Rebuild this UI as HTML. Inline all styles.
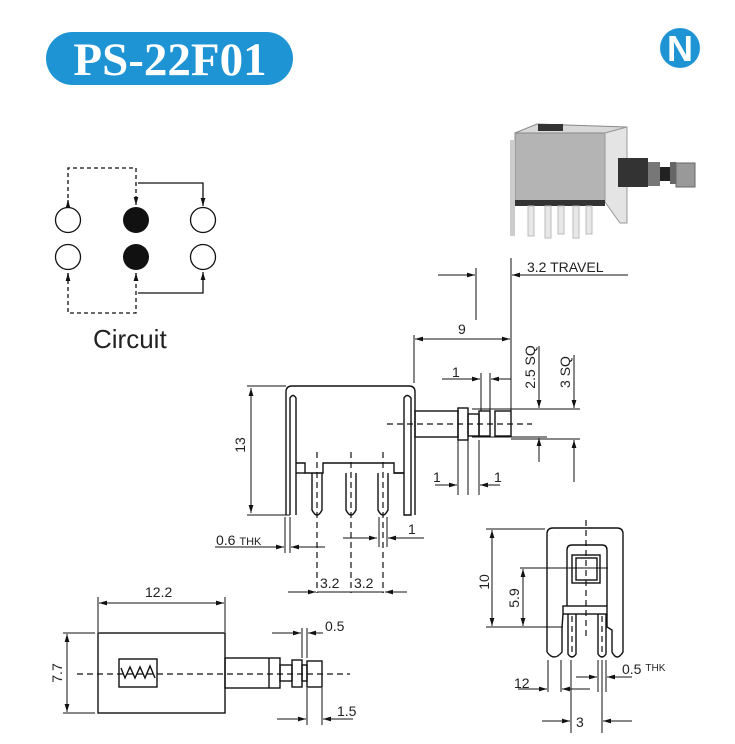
<!DOCTYPE html>
<html><head><meta charset="utf-8"><style>
html,body{margin:0;padding:0;background:#fff;}
svg{display:block;font-family:"Liberation Sans",sans-serif;}
</style></head><body>
<svg width="735" height="744" viewBox="0 0 735 744" xmlns="http://www.w3.org/2000/svg">
<defs>
<marker id="a" viewBox="0 0 10 6" refX="10" refY="3" markerWidth="8" markerHeight="5" orient="auto" markerUnits="userSpaceOnUse"><path d="M0,0 L10,3 L0,6 z" fill="#111"/></marker>
</defs>
<rect width="735" height="744" fill="#fff"/>
<rect x="46" y="32" width="247" height="53" rx="26.5" fill="#1e94d4"/>
<text x="170" y="75" text-anchor="middle" font-family="Liberation Serif,serif" font-weight="bold" font-size="47" fill="#fff">PS-22F01</text>
<circle cx="680" cy="48" r="20" fill="#1e94d4"/>
<text x="680" y="61" text-anchor="middle" font-family="Liberation Sans,sans-serif" font-weight="bold" font-size="36" fill="#fff">N</text>
<g>
<polygon points="515,133 537,124 627,127 605,133" fill="#d8d8d8" stroke="#888" stroke-width="1"/>
<rect x="538" y="124" width="25" height="7" fill="#333"/>
<rect x="515" y="133" width="90" height="69" fill="#b4b4b4" stroke="#888"/>
<polygon points="605,133 627,127 627,223 620,223 605,202" fill="#e4e4e4" stroke="#999"/>
<rect x="515" y="200" width="90" height="6" fill="#333"/>
<rect x="510" y="140" width="5" height="96" fill="#ccc"/>
<rect x="528" y="206" width="6" height="30" fill="#e8e8e8" stroke="#bbb"/><rect x="545" y="206" width="6" height="32" fill="#e8e8e8" stroke="#bbb"/><rect x="558" y="206" width="6" height="28" fill="#e8e8e8" stroke="#bbb"/><rect x="573" y="206" width="6" height="32" fill="#e8e8e8" stroke="#bbb"/><rect x="586" y="206" width="6" height="28" fill="#e8e8e8" stroke="#bbb"/>
<rect x="618" y="158" width="30" height="29" fill="#333"/>
<rect x="648" y="162" width="12" height="24" fill="#777"/>
<rect x="660" y="167" width="10" height="14" fill="#222"/>
<rect x="670" y="162" width="6" height="22" fill="#666"/>
<rect x="676" y="163" width="19" height="24" fill="#999" stroke="#666"/>
</g>
<g stroke="#111" stroke-width="1.3" fill="none">
<path d="M68,205 V168 H136 V205" stroke-dasharray="4,3" marker-end="url(#a)"/>
<path d="M68,205 V200" marker-end="url(#a)"/>
<path d="M68,273 V313 H136 V273" stroke-dasharray="4,3"/>
<path d="M68,278 V273" marker-end="url(#a)"/><path d="M136,278 V273" marker-end="url(#a)"/>
<path d="M138,183 H203 V206" marker-end="url(#a)"/>
<path d="M138,293 H203 V272" marker-end="url(#a)"/>
<circle cx="68" cy="220" r="12.5"/><circle cx="203" cy="220" r="12.5"/>
<circle cx="68" cy="257" r="12.5"/><circle cx="203" cy="257" r="12.5"/>
</g>
<circle cx="136" cy="220" r="13" fill="#111"/><circle cx="136" cy="257" r="13" fill="#111"/>
<text x="93" y="348" font-size="26" fill="#222">Circuit</text>

<g stroke="#111" stroke-width="1.4" fill="none">
<path d="M286,515 V392 Q286,386 292,386 H409 Q415,386 415,392 V515"/>
<path d="M290,515 V398 Q293,393 296,398 V515"/>
<path d="M404,515 V398 Q407,393 411,398 V515 Z"/>
<path d="M296,463 H305 V473 H323 V463 H394 V473 H404"/>
<path d="M296,473 H305"/><path d="M394,473 H404"/>
<path d="M312,473 V510 Q317,520 322,510 V473"/>
<path d="M346,473 V510 Q351,520 356,510 V473"/>
<path d="M378,473 V510 Q383,520 388,510 V473"/>
<rect x="415" y="411" width="43" height="26"/>
<rect x="458" y="408" width="10" height="32"/>
<rect x="468" y="414" width="11" height="22"/>
<rect x="479" y="411" width="11" height="25"/>
<rect x="495" y="411" width="16" height="25"/>
</g>
<g stroke="#111" stroke-width="1.2" stroke-dasharray="6,4" fill="none">
<path d="M387,424 H532"/>
<path d="M317,452 V593"/><path d="M351,452 V593"/><path d="M383,452 V593"/>
</g>
<g stroke="#111" stroke-width="1" fill="none">
<path d="M247,386 H286 M247,515 H290"/>
<path d="M251,450 V388" marker-end="url(#a)"/><path d="M251,450 V513" marker-end="url(#a)"/>
<path d="M285,517 V553 M290,517 V553"/>
<path d="M215,547 H284" marker-end="url(#a)"/><path d="M325,547 H291" marker-end="url(#a)"/>
<path d="M379,517 V547 M387,517 V547"/>
<path d="M424,538 H388" marker-end="url(#a)"/><path d="M343,538 H377" marker-end="url(#a)"/>
<path d="M288,592 H316" marker-end="url(#a)"/><path d="M407,592 H385" marker-end="url(#a)"/>
<path d="M317,592 H384"/>
<path d="M414,335 V383"/>
<path d="M460,339 H415" marker-end="url(#a)"/><path d="M460,339 H510" marker-end="url(#a)"/>
<path d="M511,258 V411"/><path d="M476,268 V320"/>
<path d="M438,275 H475" marker-end="url(#a)"/><path d="M628,275 H512" marker-end="url(#a)"/>
<path d="M481,373 V411 M490,373 V411"/>
<path d="M442,379 H480" marker-end="url(#a)"/><path d="M511,379 H491" marker-end="url(#a)"/>
<path d="M472,409 H547 M472,437 H547 M511,409 H580 M511,439 H580"/>
<path d="M539,346 V408" marker-end="url(#a)"/><path d="M539,462 V438" marker-end="url(#a)"/>
<path d="M574,355 V408" marker-end="url(#a)"/><path d="M574,482 V440" marker-end="url(#a)"/>
<path d="M458,440 V495 M468,440 V495 M479,440 V495"/>
<path d="M435,485 H457" marker-end="url(#a)"/><path d="M500,485 H480" marker-end="url(#a)"/>
</g>
<g font-size="14" fill="#222">
<text x="252" y="452" transform="rotate(-90 245 452)" text-anchor="middle">13</text>
<text x="216" y="545">0.6 <tspan font-size="11">THK</tspan></text>
<text x="408" y="534">1</text>
<text x="320" y="588">3.2</text><text x="354" y="588">3.2</text>
<text x="458" y="334">9</text>
<text x="527" y="272">3.2 TRAVEL</text>
<text x="452" y="377">1</text>
<text x="535" y="367" transform="rotate(-90 535 367)" text-anchor="middle">2.5 SQ</text>
<text x="570" y="372" transform="rotate(-90 570 372)" text-anchor="middle">3 SQ</text>
<text x="433" y="482">1</text><text x="494" y="482">1</text>
</g>

<g stroke="#111" stroke-width="1.4" fill="none">
<rect x="98" y="633" width="127" height="80"/>
<rect x="119" y="659" width="38" height="28"/>
<path d="M121,668 L125,678 L130,667 L135,678 L140,667 L145,678 L150,666 L155,678"/>
<rect x="225" y="658" width="55" height="30"/><path d="M269,658 V688"/>
<rect x="280" y="665" width="12" height="16"/>
<rect x="292" y="660" width="10" height="27"/>
<rect x="302" y="665" width="5" height="16"/>
<rect x="307" y="661" width="15" height="26"/>
</g>
<path d="M77,674 H350" stroke="#111" stroke-width="1.2" stroke-dasharray="6,4"/>
<g stroke="#111" stroke-width="1" fill="none">
<path d="M98,597 V632 M225,597 V632"/>
<path d="M160,603 H99" marker-end="url(#a)"/><path d="M160,603 H224" marker-end="url(#a)"/>
<path d="M63,633 H95 M63,713 H95"/>
<path d="M67,673 V634" marker-end="url(#a)"/><path d="M67,673 V712" marker-end="url(#a)"/>
<path d="M302,628 V658 M307,628 V658"/>
<path d="M272,633 H301" marker-end="url(#a)"/><path d="M323,633 H308" marker-end="url(#a)"/>
<path d="M307,688 V725 M322,688 V725"/>
<path d="M277,719 H306" marker-end="url(#a)"/><path d="M353,719 H323" marker-end="url(#a)"/>
</g>
<g font-size="14" fill="#222">
<text x="145" y="597">12.2</text>
<text x="62" y="673" transform="rotate(-90 62 673)" text-anchor="middle">7.7</text>
<text x="325" y="631">0.5</text>
<text x="337" y="716">1.5</text>
</g>

<g stroke="#111" stroke-width="1.4" fill="none">
<path d="M547,652 V534 Q547,528 553,528 H617 Q623,528 623,534 V652 Q617,662 612,652 V630 L607,627 V614"/>
<path d="M547,652 Q554,662 562,652 V628 L563,614"/>
<path d="M567,606 V550 Q567,545 572,545 H602 Q607,545 607,550 V606"/>
<rect x="572" y="555" width="28" height="28"/>
<rect x="576" y="558" width="21" height="22"/>
<rect x="563" y="606" width="44" height="8"/>
<path d="M568,614 V654 Q572,660 576,654 V614"/>
<path d="M598,614 V654 Q602,660 606,654 V614"/>
</g>
<g stroke="#111" stroke-width="1.2" stroke-dasharray="6,4" fill="none">
<path d="M586,520 V637"/><path d="M572,616 V657"/><path d="M602,616 V657"/>
</g>
<g stroke="#111" stroke-width="1" fill="none">
<path d="M486,529 H545 M486,627 H563 M520,568 H608"/>
<path d="M492,578 V530" marker-end="url(#a)"/><path d="M492,578 V626" marker-end="url(#a)"/>
<path d="M523,598 V569" marker-end="url(#a)"/><path d="M523,598 V626" marker-end="url(#a)"/>
<path d="M548,660 V692 M561,660 V692 M571,660 V733 M602,660 V733 M598,660 V692 M606,660 V692"/>
<path d="M518,689 H547" marker-end="url(#a)"/><path d="M590,689 H562" marker-end="url(#a)"/>
<path d="M576,677 H597" marker-end="url(#a)"/><path d="M632,677 H607" marker-end="url(#a)"/>
<path d="M542,721 H570" marker-end="url(#a)"/><path d="M632,721 H603" marker-end="url(#a)"/>
</g>
<g font-size="14" fill="#222">
<text x="489" y="582" transform="rotate(-90 489 582)" text-anchor="middle">10</text>
<text x="519" y="598" transform="rotate(-90 519 598)" text-anchor="middle">5.9</text>
<text x="514" y="688">12</text>
<text x="622" y="674">0.5 <tspan font-size="10" dy="-3">THK</tspan></text>
<text x="576" y="727">3</text>
</g>
</svg>
</body></html>
